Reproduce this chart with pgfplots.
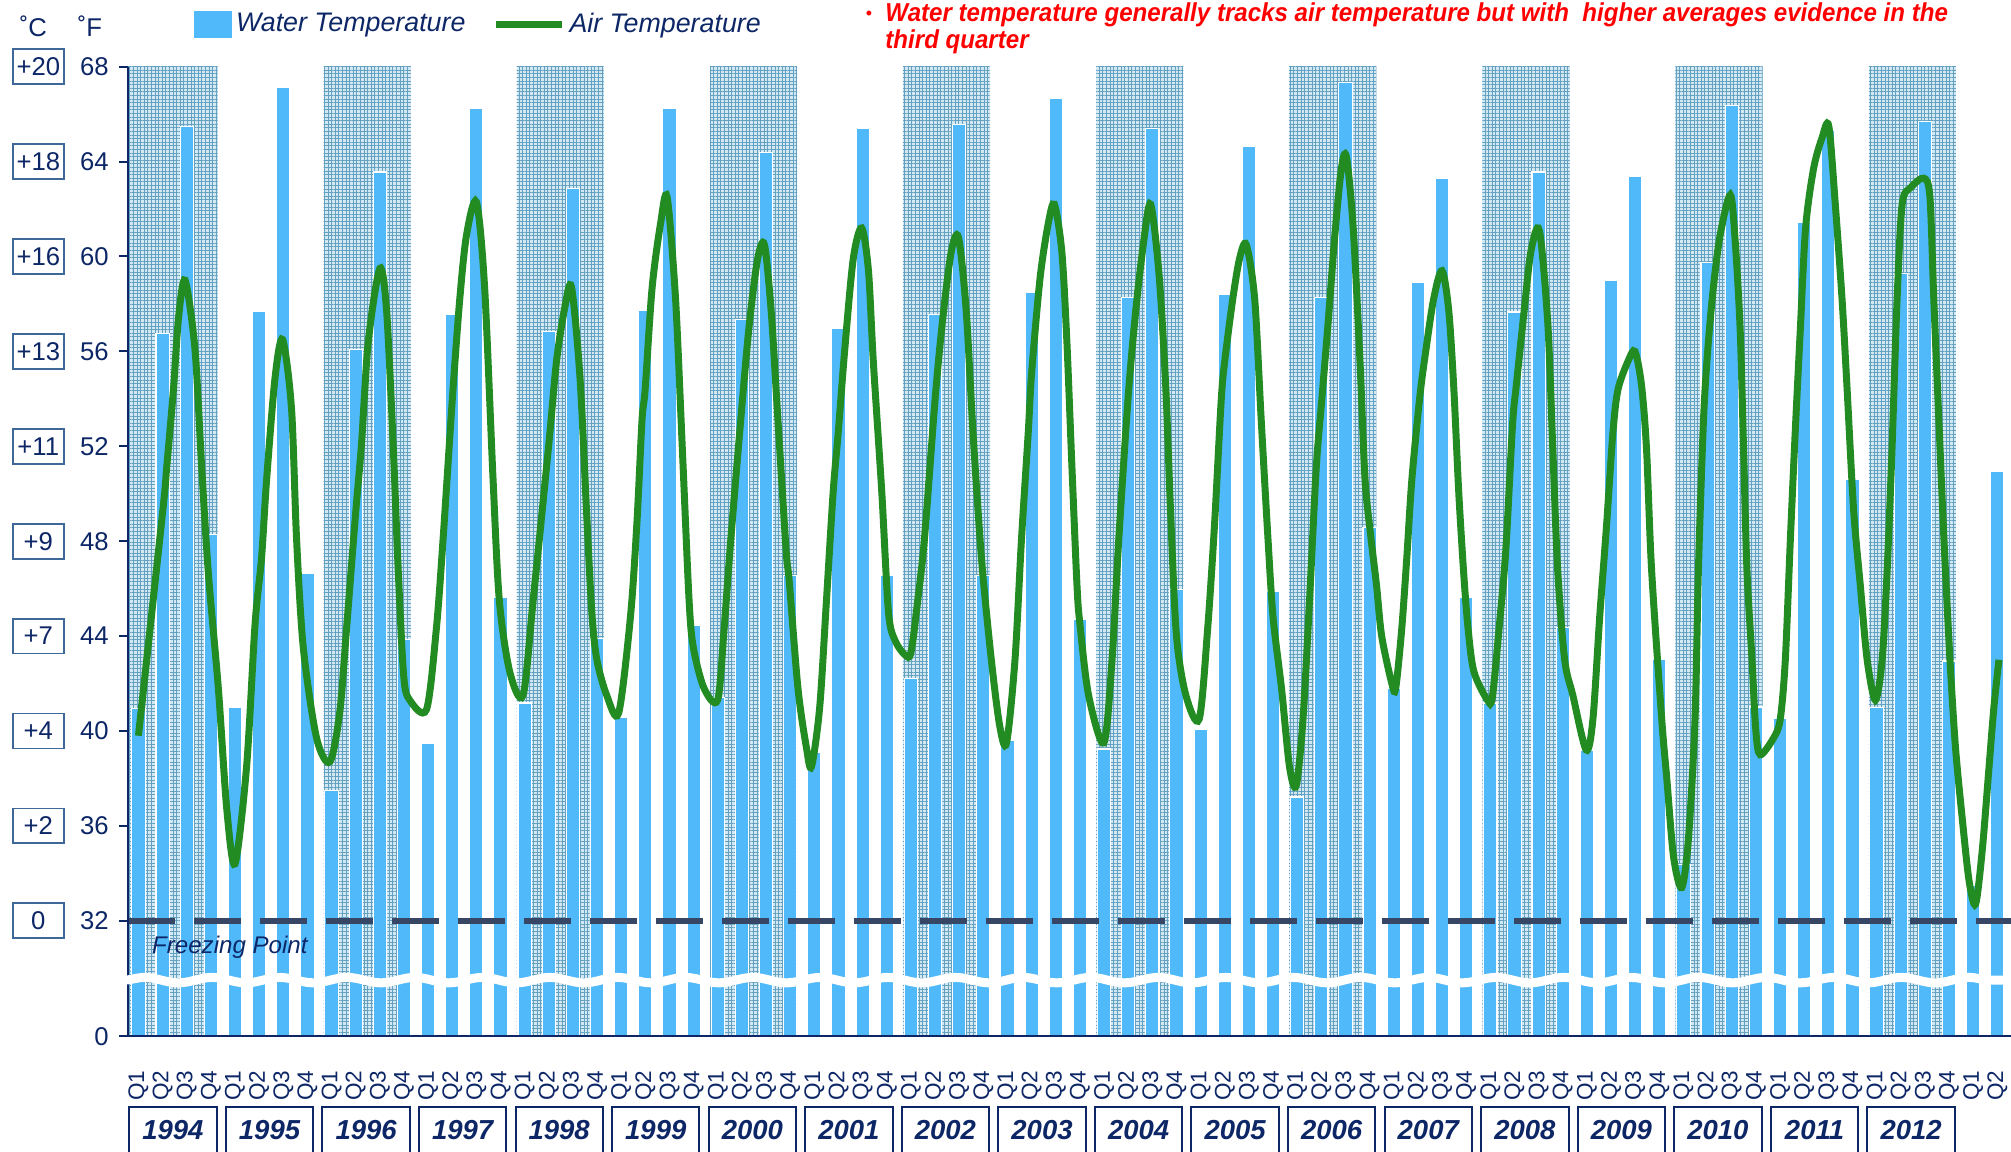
\documentclass[border=0pt]{standalone}
\usepackage{fontspec}
\setmainfont{Liberation Sans}
\newfontfamily\narrowfont[FakeStretch=0.93]{Liberation Sans}
\usepackage{pgfplots}
\pgfplotsset{compat=1.18}
\usetikzlibrary{patterns.meta,decorations.pathmorphing}

\definecolor{water}{RGB}{80,185,250}
\definecolor{air}{RGB}{34,139,34}
\definecolor{navy}{RGB}{12,38,102}
\definecolor{freeze}{RGB}{55,70,100}
\definecolor{shadebase}{RGB}{210,232,242}
\definecolor{shadedot}{RGB}{100,160,192}
\definecolor{boxc}{RGB}{62,104,152}

\begin{document}
\begin{tikzpicture}
\begin{axis}[
    at={(0pt,0pt)}, anchor=south west,
    scale only axis, width=836pt, height=430.5pt,
    xmin=-0.435, xmax=77.57, ymin=27.13, ymax=68,
    axis x line=bottom, axis y line=left,
    axis line style={navy, line width=0.9pt, -},
    every outer x axis line/.append style={-},
    every outer y axis line/.append style={-},
    axis on top,
    clip mode=individual,
    ytick={27.13,32,36,40,44,48,52,56,60,64,68},
    yticklabels={0,32,36,40,44,48,52,56,60,64,68},
    ytick style={navy, line width=0.9pt},
    tick align=outside, major tick length=3.8pt,
    yticklabel style={font=\fontsize{11.4}{13}\selectfont, text=navy},
    yticklabel shift=1.2pt,
    xtick={0,...,77},
    xtick style={draw=none},
    xticklabel={\pgfmathtruncatemacro\q{mod(round(\tick),4)+1}Q\q},
    xticklabel style={rotate=90, anchor=east, font=\fontsize{10}{11}\selectfont, text=navy},
    xticklabel shift=8pt,
    legend columns=2,
    legend style={at={(axis description cs:0,1)}, anchor=west, xshift=29.3pt, yshift=18.8pt,
        draw=none, fill=none, inner sep=0pt,
        font=\fontsize{11.9}{13}\selectfont\itshape, text=navy,
        /tikz/every even column/.append style={column sep=10pt}},
]

% even-year background bands
\fill[shadebase] (axis cs:-0.435,27.13) rectangle (axis cs:3.28,68);
\fill[pattern={Hatch[distance=1.6pt,angle=0,line width=0.3pt]}, pattern color=shadedot]
    (axis cs:-0.435,27.13) rectangle (axis cs:3.28,68);
\foreach \k in {2,4,...,18}{
    \pgfmathsetmacro\xa{4*\k-0.33}
    \pgfmathsetmacro\xb{4*\k+3.28}
    \edef\temp{\noexpand\fill[shadebase] (axis cs:\xa,27.13) rectangle (axis cs:\xb,68);
        \noexpand\fill[pattern={Hatch[distance=1.6pt,angle=0,line width=0.3pt]}, pattern color=shadedot]
        (axis cs:\xa,27.13) rectangle (axis cs:\xb,68);}
    \temp
}

% water temperature, quarterly, deg F
\addplot[ybar, bar width=5.9pt, fill=water, draw=white, line width=0.5pt,
    legend image code/.code={\fill[water] (0pt,-5.7pt) rectangle (16pt,5.7pt);}]
coordinates {
(0,40.96) (1,56.75) (2,65.48) (3,48.27)
(4,41.0) (5,57.7) (6,67.14) (7,46.63)
(8,37.48) (9,56.07) (10,63.56) (11,43.86)
(12,39.49) (13,57.56) (14,66.23) (15,45.62)
(16,41.18) (17,56.82) (18,62.88) (19,43.91)
(20,40.58) (21,57.73) (22,66.23) (23,44.46)
(24,41.4) (25,57.35) (26,64.39) (27,46.56)
(28,39.1) (29,56.98) (30,65.40) (31,46.56)
(32,42.22) (33,57.56) (34,65.55) (35,46.56)
(36,39.6) (37,58.49) (38,66.66) (39,44.72)
(40,39.24) (41,58.26) (42,65.40) (43,45.98)
(44,40.07) (45,58.41) (46,64.64) (47,45.88)
(48,37.22) (49,58.26) (50,67.32) (51,48.58)
(52,41.81) (53,58.92) (54,63.28) (55,45.62)
(56,41.18) (57,57.66) (58,63.56) (59,44.36)
(60,39.17) (61,58.97) (62,63.38) (63,43.03)
(64,34.37) (65,59.75) (66,66.36) (67,41.01)
(68,40.55) (69,61.44) (70,65.3) (71,50.6)
(72,41.0) (73,59.3) (74,65.7) (75,42.95)
(76,33.5) (77,50.92)
};
\addlegendentry{Water Temperature}

% freezing point
\addplot[freeze, line width=2.6pt, dash pattern=on 20.9pt off 8.4pt, forget plot]
    coordinates {(-0.435,32) (77.57,32)};

% air temperature
\addplot[air, line width=3.1pt, smooth,
    legend image code/.code={\draw[air,line width=2.9pt] (0pt,0pt) -- (29.3pt,0pt);}]
coordinates {
(0.00,39.8) (1.01,49.3) (1.17,51.1) (1.45,54.4) (1.66,57.4) (1.93,59.0) (2.34,56.1)
(2.62,51.1) (2.90,46.6) (3.31,41.8) (3.66,36.7) (4.00,34.4) (4.48,38.5) (4.83,44.5)
(5.10,47.3) (5.31,50.6) (5.66,54.9) (5.97,56.5) (6.34,53.6) (6.55,48.1) (6.83,43.5)
(7.38,39.7) (7.93,38.7) (8.34,40.8) (8.62,44.3) (8.99,49.1) (9.24,52.1) (9.52,56.4)
(10.00,59.5) (10.28,57.7) (10.55,52.1) (10.76,46.8) (10.99,42.3) (11.24,41.3) (11.93,40.9)
(12.34,44.3) (12.62,48.1) (13.01,54.1) (13.31,58.2) (13.59,60.9) (14.00,62.3) (14.34,58.7)
(14.69,50.6) (14.95,45.5) (15.38,42.5) (15.93,41.5)
(16.35,45.5) (17.00,52.1) (17.32,55.6) (17.67,57.9) (17.94,58.7) (18.29,54.9)
(18.57,49.1) (18.78,45.0) (18.99,43.0) (19.40,41.5) (19.89,40.75) (20.38,44.8) (20.65,48.8)
(20.86,53.1) (20.99,54.4) (21.28,58.7) (21.63,61.4) (21.90,62.5) (22.25,58.2) (22.53,51.9)
(22.81,45.5) (22.99,43.5) (23.43,41.8) (23.99,41.3) (24.26,44.3) (24.54,48.1) (24.99,53.6)
(25.31,57.2) (25.65,59.9) (25.93,60.5) (26.21,57.7) (26.49,53.1) (26.83,47.6) (26.96,46.3)
(27.32,41.8) (27.67,39.3) (27.88,38.5) (28.22,41.0) (28.50,45.5) (28.78,50.1) (28.99,52.6)
(29.26,56.1) (29.61,59.9) (29.96,61.2) (30.24,59.4) (30.44,55.6) (30.79,50.1) (31.07,45.0)
(31.35,43.8) (31.76,43.2)
(32.00,43.3) (32.28,45.5) (32.56,48.1) (33.01,54.1) (33.32,57.4) (33.67,60.2) (33.97,60.8)
(34.29,57.7) (34.57,52.6) (34.92,47.3) (35.33,43.0) (35.68,40.2) (35.96,39.5) (36.31,43.0)
(36.58,48.1) (36.86,52.6) (37.00,55.1) (37.35,59.1) (37.69,61.4) (37.94,62.2) (38.25,60.2)
(38.46,56.4) (38.67,51.1) (38.88,46.1) (39.00,44.5) (39.36,41.5) (39.99,39.5) (40.33,43.0)
(40.61,48.1) (41.00,54.1) (41.31,57.7) (41.65,60.7) (41.93,62.2) (42.28,59.2) (42.56,54.4)
(42.76,49.1) (43.00,44.0) (43.39,41.5) (43.94,40.5) (44.29,44.3) (44.57,48.6) (44.85,53.9)
(45.00,55.6) (45.33,58.2) (45.61,59.9) (45.89,60.5) (46.24,58.2) (46.51,53.1) (46.79,48.1)
(47.00,44.8) (47.35,41.8)
(47.68,38.5) (47.96,37.7) (48.24,40.5) (48.51,45.5) (48.79,51.1) (49.03,54.1) (49.28,57.2)
(49.56,60.9) (49.83,63.7) (50.04,64.2) (50.32,61.2) (50.60,55.6) (50.81,50.6) (51.06,48.1)
(51.29,46.1) (51.50,44.0) (51.92,42.0) (52.08,41.8) (52.33,44.3) (52.54,47.3) (52.75,50.6)
(53.08,54.1) (53.31,55.9) (53.65,58.2) (54.00,59.4) (54.28,57.7) (54.49,54.4) (54.69,50.1)
(54.90,46.6) (55.08,44.3) (55.32,42.5) (55.88,41.3) (56.08,41.4) (56.36,44.3) (56.64,47.6)
(56.92,52.9) (57.08,54.6) (57.40,57.7) (57.68,60.2) (58.03,61.1) (58.38,57.2) (58.58,52.1)
(58.79,46.8) (59.08,43.0) (59.42,41.5) (59.97,39.2) (60.25,40.5) (60.53,44.8) (60.81,48.6)
(61.08,52.6) (61.29,54.4) (61.71,55.6) (61.99,56.0) (62.26,54.6) (62.47,51.9) (62.68,46.8)
(63.10,40.5)
(63.31,38.0) (63.59,34.7) (63.93,33.4) (64.21,35.5) (64.48,40.5) (64.62,46.8) (64.83,53.1)
(65.01,56.1) (65.24,58.7) (65.52,60.9) (65.94,62.6) (66.14,60.7) (66.35,56.9) (66.49,51.9)
(66.63,46.8) (66.84,43.0) (67.00,40.0) (67.18,39.0) (67.73,39.7) (68.01,40.5) (68.22,43.0)
(68.43,48.1) (68.63,52.6) (68.84,56.9) (69.06,61.2) (69.39,63.7) (69.74,65.0) (70.02,65.5)
(70.29,62.2) (70.57,58.2) (70.78,54.4) (71.05,49.3) (71.33,46.1) (71.61,43.0) (71.95,41.3)
(72.23,43.0) (72.44,46.8) (72.64,51.9) (72.85,58.2) (73.06,62.2) (73.41,62.9) (73.96,63.3)
(74.21,62.5) (74.37,58.2) (74.58,53.1) (74.79,48.1) (75.04,43.0) (75.27,39.3) (75.55,36.3)
(75.83,33.7) (76.10,32.7) (76.38,35.0) (76.66,38.5) (76.86,41.0) (77.07,43.0)
};
\addlegendentry{Air Temperature}

\node[anchor=west, text=navy, font=\fontsize{10.7}{12}\selectfont\itshape, inner sep=0pt]
    at (axis cs:0.55,30.9) {Freezing Point};

% year boxes under the quarter labels
\foreach \k in {0,...,18}{
    \pgfmathsetmacro\xa{4*\k-0.38}
    \pgfmathsetmacro\xb{4*\k+3.24}
    \pgfmathsetmacro\xc{4*\k+1.43}
    \pgfmathtruncatemacro\yr{1994+\k}
    \edef\temp{\noexpand\draw[navy, line width=0.9pt] (axis cs:\xa,21.0) rectangle (axis cs:\xb,24.16);
        \noexpand\node[text=navy, font=\noexpand\fontsize{12.2}{13}\noexpand\selectfont\noexpand\bfseries\noexpand\itshape]
        at (axis cs:\xc,23.17) {\yr};}
    \temp
}
\end{axis}

% axis break
\draw[white, line width=4pt, decorate, decoration={snake, segment length=30pt, amplitude=1.2pt}]
    (-2pt,24.96pt) -- (837pt,24.96pt);

% Celsius boxes
\foreach \v/\c in {68/+20,64/+18,60/+16,56/+13,52/+11,48/+9,44/+7,40/+4,36/+2,32/0}{
    \node[draw=boxc, line width=0.8pt, fill=white, minimum width=22.7pt, minimum height=15.5pt,
        inner sep=0pt, text=navy, font=\fontsize{11.4}{13}\selectfont]
        at (-39.8pt,{(\v-27.13)*10.5334pt}) {\c};
}
\node[text=navy, font=\fontsize{11.4}{13}\selectfont] at (-42pt,448.3pt) {˚C};
\node[text=navy, font=\fontsize{11.4}{13}\selectfont] at (-16.9pt,448.3pt) {˚F};

% note
\node[text=red, font=\fontsize{8}{9}\selectfont, inner sep=0pt] at (329pt,453.5pt) {•};
\node[anchor=west, inner sep=0pt, text=red, font={\narrowfont\fontsize{11.5}{12}\selectfont\bfseries\itshape}]
    at (336.1pt,453.5pt) {Water temperature generally tracks air temperature but with\ \ higher averages evidence in the};
\node[anchor=west, inner sep=0pt, text=red, font={\narrowfont\fontsize{11.5}{12}\selectfont\bfseries\itshape}]
    at (336.1pt,441.5pt) {third quarter};

\pgfresetboundingbox
\path (-56.8pt,-51pt) rectangle (836pt,460.1pt);
\end{tikzpicture}
\end{document}
